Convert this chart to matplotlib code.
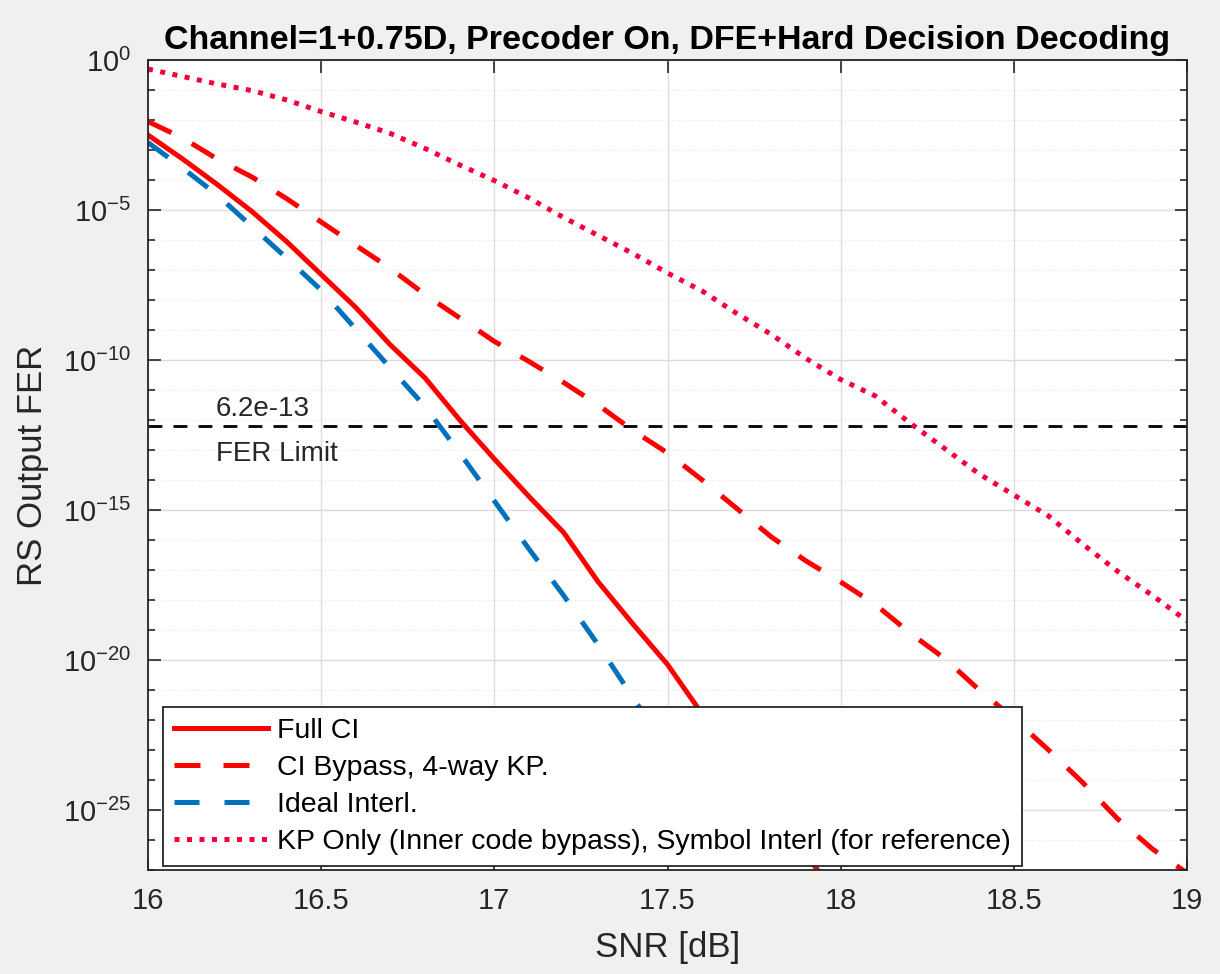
import numpy as np
import matplotlib
matplotlib.use("Agg")
import matplotlib.pyplot as plt

plt.rcParams['font.family'] = ['Liberation Sans', 'DejaVu Sans']
plt.rcParams['mathtext.fontset'] = 'custom'
plt.rcParams['mathtext.rm'] = 'Liberation Sans'
plt.rcParams['mathtext.it'] = 'Liberation Sans'

# SNR grid (dB)
snr = [16.0, 16.1, 16.2, 16.3, 16.4, 16.5, 16.6, 16.7, 16.8, 16.9, 17.0,
       17.1, 17.2, 17.3, 17.4, 17.5, 17.6, 17.7, 17.8, 17.9, 18.0,
       18.1, 18.2, 18.3, 18.4, 18.5, 18.6, 18.7, 18.8, 18.9, 19.0]

# log10(FER)
full_ci = [-2.5, -3.3, -4.15, -5.05, -6.05, -7.15, -8.25, -9.5, -10.6, -12.0, -13.3,
           -14.55, -15.75, -17.4, -18.8, -20.15, -21.8, -23.35, -24.9, -26.5, -28.0]
ci_bypass = [-2.05, -2.6, -3.3, -3.9, -4.62, -5.4, -6.18, -6.95, -7.82, -8.6, -9.38,
             -10.05, -10.75, -11.5, -12.35, -13.1, -14.0, -14.95, -15.9, -16.7, -17.4,
             -18.15, -19.1, -19.95, -21.0, -21.95, -23.0, -24.1, -25.3, -26.3, -27.1]
ideal_interl = [-2.75, -3.6, -4.5, -5.55, -6.6, -7.67, -8.97, -10.27, -11.55, -13.1, -14.7,
                -16.3, -17.85, -19.5, -21.25, -23.0]
kp_only = [-0.3, -0.55, -0.8, -1.02, -1.33, -1.72, -2.07, -2.45, -2.95, -3.5, -4.02,
           -4.6, -5.25, -5.85, -6.45, -7.1, -7.7, -8.45, -9.15, -9.95, -10.65,
           -11.2, -12.1, -12.95, -13.8, -14.5, -15.2, -16.15, -17.05, -17.85, -18.7]

fer_limit = 6.2e-13
xticks = [16, 16.5, 17, 17.5, 18, 18.5, 19]
xtick_labels = ['16', '16.5', '17', '17.5', '18', '18.5', '19']
ytick_exp = [-25, -20, -15, -10, -5, 0]

fig = plt.figure(figsize=(12.2, 9.74), dpi=100, facecolor='#f0f0f0')
ax = fig.add_axes([0.1213, 0.1068, 0.8517, 0.8316])
ax.set_facecolor('white')

red = '#ff0000'
blue = '#0072bd'
kp_col = '#f5003a'
lw = 3.6

ax.plot(snr[:len(full_ci)], 10.0 ** np.array(full_ci), color=red, lw=lw,
        label='Full CI')
ax.plot(snr, 10.0 ** np.array(ci_bypass), color=red, lw=lw, ls=(0, (5.2, 4.6)),
        dash_capstyle='butt', label='CI Bypass, 4-way KP.')
ax.plot(snr[:len(ideal_interl)], 10.0 ** np.array(ideal_interl), color=blue, lw=lw,
        ls=(0, (5.0, 5.0)), dash_capstyle='butt', label='Ideal Interl.')
ax.plot(snr, 10.0 ** np.array(kp_only), color=kp_col, lw=lw, ls=(0, (1.0, 1.5)),
        dash_capstyle='butt',
        label='KP Only (Inner code bypass), Symbol Interl (for reference)')
ax.axhline(fer_limit, color='black', lw=2.0, ls=(0, (5, 4)), zorder=1.5)

ax.text(16.196, 10 ** -11.65, '6.2e-13', fontsize=20, color='#262626', va='center')
ax.text(16.196, 10 ** -13.15, 'FER Limit', fontsize=20, color='#262626', va='center')

ax.set_yscale('log')
ax.set_xlim(16, 19)
ax.set_ylim(1e-27, 1e0)
ax.set_xticks(xticks)
ax.set_xticklabels(xtick_labels)
ax.set_yticks([10.0 ** e for e in ytick_exp])
ax.set_yticklabels(['$10^{%d}$' % e for e in ytick_exp])
ax.set_yticks([10.0 ** e for e in range(-27, 1) if e % 5 != 0], minor=True)
ax.yaxis.set_minor_formatter(matplotlib.ticker.NullFormatter())
ax.xaxis.set_minor_locator(matplotlib.ticker.NullLocator())

ax.grid(True, which='major', color='#dcdcdc', lw=1.0)
ax.grid(True, which='minor', axis='y', color='#e4e4e4', lw=0.8, ls=(0, (1, 2)))
ax.set_axisbelow(True)

ax.tick_params(which='both', direction='in', top=True, right=True,
               colors='#262626', labelsize=21, width=1.2)
ax.tick_params(which='major', length=9, pad=12)
ax.tick_params(which='minor', length=5)
for s in ax.spines.values():
    s.set_color('#262626')
    s.set_linewidth(1.3)

ax.set_xlabel('SNR [dB]', fontsize=25, color='#262626', labelpad=12)
ax.set_ylabel('RS Output FER', fontsize=25, color='#262626', labelpad=10)
ax.set_title('Channel=1+0.75D, Precoder On, DFE+Hard Decision Decoding',
             fontsize=24.5, fontweight='bold', color='black', pad=8)

leg = ax.legend(loc='lower left', bbox_to_anchor=(0.0144, 0.005), fontsize=20.5,
                frameon=True, fancybox=False, framealpha=1.0, edgecolor='#262626',
                handlelength=3.3, handletextpad=0.3, borderaxespad=0.0,
                labelspacing=0.38, borderpad=0.4)
leg.get_frame().set_linewidth(1.3)

fig.savefig('out.png', dpi=100, facecolor=fig.get_facecolor())
